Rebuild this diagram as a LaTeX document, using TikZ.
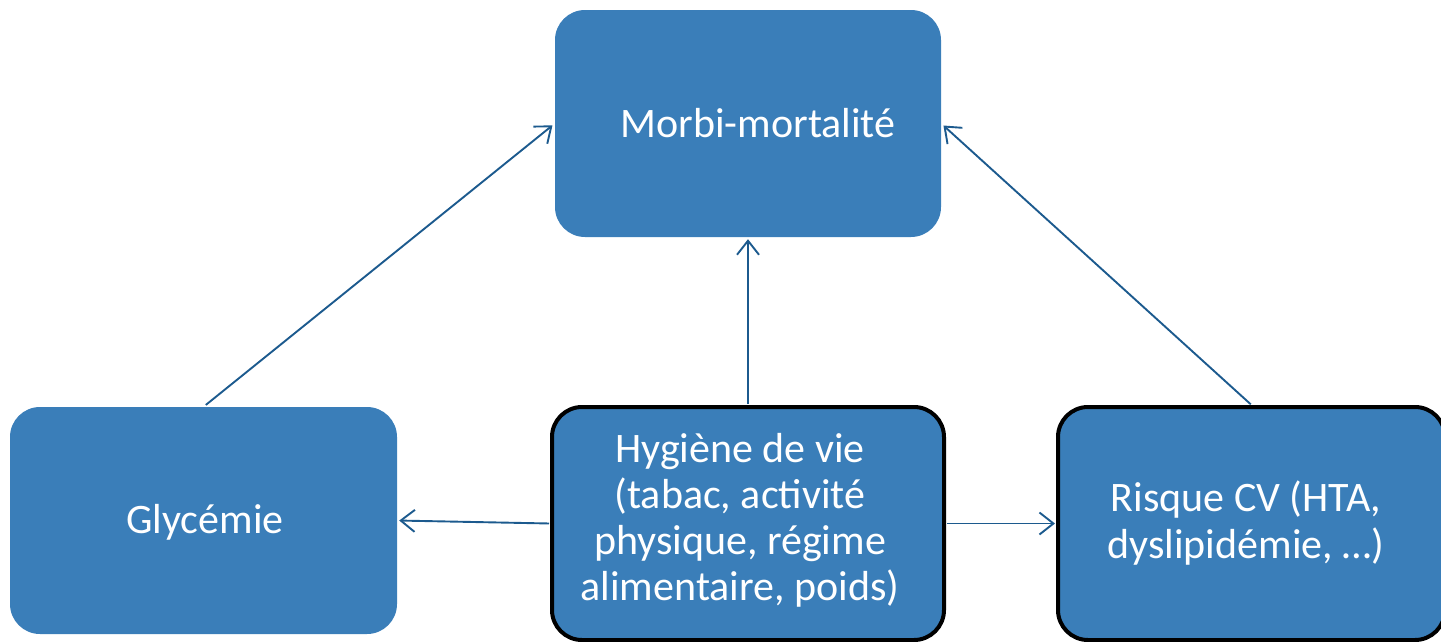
\documentclass[tikz,border=0pt]{standalone}
\usepackage{fontspec}
\setmainfont{Carlito}
\usetikzlibrary{arrows.meta}
\definecolor{boxblue}{RGB}{58,126,185}
\definecolor{arrowblue}{RGB}{28,90,142}
\begin{document}
\begin{tikzpicture}[x=1pt,y=-1pt,
  box/.style={draw=none,fill=boxblue,rounded corners=30pt,minimum width=#1,minimum height=227pt,inner sep=0pt,
    text=white,align=center,font=\fontsize{42}{46}\selectfont},
  boxb/.style={box=#1,draw=black,line width=4pt},
  conn/.style={draw=arrowblue,line width=1.9pt,-{Straight Barb[length=14pt,width=22pt,line width=1.9pt]}}]
\useasboundingbox (0,0) rectangle (1441,641);
\node[box=386pt] (M) at (748,123.5) {};
\node[text=white,font=\fontsize{42}{46}\selectfont] (Mt) at (758,123) {Morbi-mortalité};
\node[box=387pt] (G) at (203.5,520.5) {};
\node[text=white,font=\fontsize{42}{46}\selectfont] (Gt) at (205,522) {Glycémie};
\node[boxb=392pt,minimum height=233pt] (H) at (748,523.5) {};
\node[text=white,align=center,font=\fontsize{42}{46}\selectfont] (Ht) at (740,520) {Hygiène de vie\\(tabac, activité\\physique, régime\\alimentaire, poids)};
\node[boxb=387pt,minimum height=233pt] (C) at (1251.5,523.5) {};
\node[text=white,align=center,font=\fontsize{42}{47}\selectfont] (Ct) at (1246,523) {Risque CV (HTA,\\dyslipidémie, …)};
\draw[conn,shorten >=3pt,shorten <=3pt] (G.north) -- (M.west);
\draw[conn,shorten >=2pt,shorten <=1pt] (H.north) -- (M.south);
\draw[conn,shorten >=3pt,shorten <=1pt] (C.north) -- (M.east);
\draw[conn,shorten >=2pt,shorten <=1pt] (H.west) -- (G.east);
\draw[conn,shorten >=1pt,shorten <=1pt] (H.east) -- (C.west);
\end{tikzpicture}
\end{document}
